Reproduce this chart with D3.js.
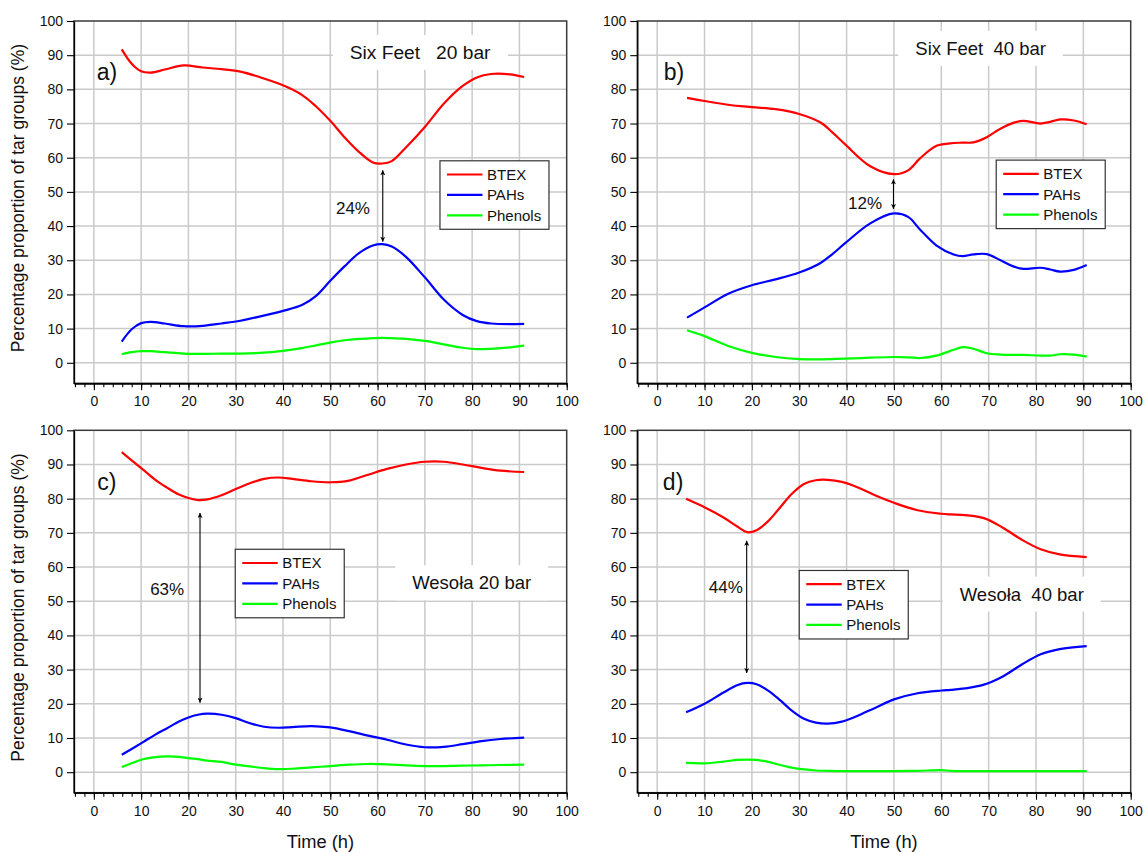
<!DOCTYPE html>
<html><head><meta charset="utf-8">
<script src="https://cdn.jsdelivr.net/npm/d3@7/dist/d3.min.js"></script>
<style>
body{margin:0;background:#fff;}
svg text{font-family:"Liberation Sans",Arial,Helvetica,sans-serif;}
</style></head><body>
<svg id="chart" width="1144" height="852"></svg>
<script>
// ---------- data ----------
const xMajorTicks = [0,10,20,30,40,50,60,70,80,90,100];
const yMajorTicks = [0,10,20,30,40,50,60,70,80,90,100];
const xMinorTicks = d3.range(-4, 101, 2);
const seriesNames = ["BTEX","PAHs","Phenols"];
const panelLetters = ["a)","b)","c)","d)"];
const panelTitles = ["Six Feet   20 bar","Six Feet  40 bar","Wesoła 20 bar","Wesoła  40 bar"];
const gapLabels = ["24%","12%","63%","44%"];

// a) Six Feet 20 bar
const timeA   = [5.9,8,10,12,15,19,23,27,31,35,40,44,47,50,53,56,59,61,63,66,70,74,78,81,84,88,91];
const btexA   = [91.7,87.5,85.3,84.9,85.8,87.0,86.4,85.9,85.2,83.6,81.2,78.4,75.0,70.8,66.0,61.8,58.6,58.3,59.0,63.0,69.0,75.8,81.0,83.5,84.5,84.4,83.6];
const pahA    = [6.2,9.8,11.6,12.0,11.5,10.7,10.8,11.5,12.3,13.5,15.2,16.9,19.6,24.0,28.2,32.0,34.3,34.7,34.0,31.0,25.0,18.5,14.0,12.2,11.5,11.3,11.4];
const phenolA = [2.5,3.1,3.4,3.4,3.1,2.7,2.6,2.7,2.7,2.9,3.5,4.3,5.1,5.9,6.6,7.0,7.2,7.3,7.2,7.0,6.4,5.4,4.4,4.0,4.1,4.5,5.0];

// b) Six Feet 40 bar
const timeB   = [6.3,10,15,20,25,30,34.5,37,39.7,45,50,53,55.5,59,62.6,64.5,66.8,69.6,72.5,75.2,77.3,80.9,83,85.1,88,90.7];
const btexB   = [77.5,76.6,75.5,74.8,74.2,72.8,70.3,67.4,63.9,57.5,55.2,56.3,59.8,63.5,64.3,64.4,64.5,66.0,68.5,70.2,70.8,70.0,70.5,71.2,70.9,69.8];
const pahB    = [13.2,16.2,20.2,22.7,24.4,26.4,29.2,31.8,35.0,40.8,43.7,42.7,39.0,34.3,31.7,31.2,31.7,31.8,30.0,28.2,27.5,27.8,27.3,26.7,27.2,28.6];
const phenolB = [9.5,7.8,4.9,2.9,1.7,1.1,1.0,1.1,1.2,1.5,1.7,1.6,1.4,2.1,3.8,4.6,4.1,2.8,2.4,2.3,2.3,2.1,2.1,2.5,2.4,1.8];

// c) Wesoła 20 bar
const timeC   = [5.9,8,10.4,13,15.4,18,20,22,24,27,30,33,36,39,42,46,50,54,58,62,66,70,74,78,82,86,91];
const btexC   = [93.6,91.2,88.5,85.5,83.3,81.2,80.2,79.6,79.8,81.0,82.8,84.5,85.8,86.2,85.8,85.1,84.8,85.3,87.0,88.7,90.0,90.8,90.8,90.0,89.0,88.2,87.8];
const pahC    = [5.1,6.8,8.8,11.0,12.8,14.8,16.0,16.8,17.1,16.8,15.8,14.3,13.3,13.0,13.2,13.5,13.1,12.0,10.7,9.5,8.1,7.3,7.4,8.2,9.1,9.7,10.1];
const phenolC = [1.5,2.6,3.8,4.4,4.6,4.5,4.1,3.8,3.4,3.0,2.2,1.7,1.2,0.9,1.0,1.4,1.8,2.2,2.4,2.3,2.0,1.8,1.8,1.9,2.0,2.1,2.2];

// d) Wesoła 40 bar
const timeD   = [6.1,10,14,17,19,21,23.5,26,28.5,31,33.5,36,39,42,46,50,55,60,62,65,69,73,77,81,85,90.7];
const btexD   = [80.0,77.5,74.5,71.8,70.2,70.8,73.5,77.5,81.5,84.3,85.4,85.5,84.9,83.5,81.0,78.8,76.6,75.6,75.4,75.2,74.3,71.5,68.0,65.2,63.7,62.9];
const pahD    = [17.5,20.0,23.3,25.5,26.1,25.7,23.8,21.0,17.9,15.6,14.5,14.2,14.8,16.3,18.8,21.3,23.1,23.9,24.1,24.5,25.6,28.0,31.5,34.5,36.0,36.9];
const phenolD = [2.7,2.6,3.1,3.6,3.7,3.6,3.0,2.1,1.3,0.8,0.5,0.4,0.3,0.3,0.3,0.3,0.4,0.6,0.4,0.3,0.3,0.3,0.3,0.3,0.3,0.3];

// ---------- layout (positions in data units of each panel) ----------
const colors = ["#ff0000","#0000ff","#00ff00"];
const cols = [{left:74, right:566.7},{left:637.3, right:1130.7}];
const rows = [{top:21, bottom:383.3},{top:430.3, bottom:792.7}];
const panels = [
  {col:0,row:0,time:timeA,values:[btexA,pahA,phenolA],title:[69.0,88.9],letter:[0.6,82.7],legend:[73.2,59.1],arrow:[61.1,56.3,35.4],gap:[54.8,45.3]},
  {col:1,row:0,time:timeB,values:[btexB,pahB,phenolB],title:[68.3,90.1],letter:[1.4,82.7],legend:[71.6,59.3],arrow:[49.9,53.7,45.0],gap:[43.9,46.7]},
  {col:0,row:1,time:timeC,values:[btexC,pahC,phenolC],title:[79.9,53.5],letter:[0.7,82.6],legend:[29.9,65.2],arrow:[22.45,75.8,20.3],gap:[15.5,53.6]},
  {col:1,row:1,time:timeD,values:[btexD,pahD,phenolD],title:[77.0,50.2],letter:[1.2,82.4],legend:[30.0,59.0],arrow:[18.9,67.7,29.0],gap:[14.5,54.3]}
];

const svg = d3.select("#chart");
const defs = svg.append("defs");
defs.append("marker").attr("id","ah").attr("viewBox","0 0 10 10")
  .attr("refX",10).attr("refY",5).attr("markerWidth",8).attr("markerHeight",5)
  .attr("markerUnits","userSpaceOnUse").attr("orient","auto-start-reverse")
  .append("path").attr("d","M0,0 L10,5 L0,10 L2.5,5 Z").attr("fill","#000");

panels.forEach((p,i)=>{
  const c = cols[p.col], r = rows[p.row];
  const x = d3.scaleLinear().domain([-4.2,100]).range([c.left,c.right]);
  const y = d3.scaleLinear().domain([-6,100]).range([r.bottom,r.top]);
  const g = svg.append("g");

  // grid
  g.append("g").selectAll("line").data(xMajorTicks.filter(v=>v<100)).join("line")
    .attr("x1",d=>x(d)).attr("x2",d=>x(d)).attr("y1",r.top).attr("y2",r.bottom)
    .attr("stroke","#cacaca").attr("stroke-width",1.5);
  g.append("g").selectAll("line").data(yMajorTicks.filter(v=>v<100)).join("line")
    .attr("y1",d=>y(d)).attr("y2",d=>y(d)).attr("x1",c.left).attr("x2",c.right)
    .attr("stroke","#cacaca").attr("stroke-width",1.5);

  // frame
  g.append("rect").attr("x",c.left).attr("y",r.top).attr("width",c.right-c.left).attr("height",r.bottom-r.top)
    .attr("fill","none").attr("stroke","#3a3a3a").attr("stroke-width",1.5);

  // axes
  const ax = g.append("g").attr("transform",`translate(0,${r.bottom})`)
    .call(d3.axisBottom(x).tickValues(xMajorTicks).tickSize(7).tickPadding(6).tickSizeOuter(0));
  const axm = g.append("g").attr("transform",`translate(0,${r.bottom})`)
    .call(d3.axisBottom(x).tickValues(xMinorTicks).tickSize(4).tickFormat("").tickSizeOuter(0));
  const ay = g.append("g").attr("transform",`translate(${c.left},0)`)
    .call(d3.axisLeft(y).tickValues(yMajorTicks).tickSize(7).tickPadding(4).tickSizeOuter(0));
  [ax,axm,ay].forEach(a=>{
    a.select(".domain").attr("stroke","#000").attr("stroke-width",1.3);
    a.selectAll(".tick line").attr("stroke","#000").attr("stroke-width",1.1);
    a.selectAll("text").attr("font-size",14).attr("fill","#111")
      .attr("font-family","'Liberation Sans',Arial,sans-serif");
  });

  // series
  const line = d3.line().curve(d3.curveCatmullRom.alpha(0.5));
  p.values.forEach((vals,k)=>{
    g.append("path").attr("d",line(p.time.map((t,j)=>[x(t),y(vals[j])])))
      .attr("fill","none").attr("stroke",colors[k]).attr("stroke-width",2.2)
      .attr("stroke-linejoin","round").attr("stroke-linecap","butt");
  });

  // title with white box
  const tg = g.append("g");
  const tt = tg.append("text").attr("x",x(p.title[0])).attr("y",y(p.title[1]))
    .attr("text-anchor","middle").attr("font-size",i===0?19.2:18.5).attr("fill","#111")
    .style("white-space","pre").text(panelTitles[i]);
  const bb = tt.node().getBBox();
  tg.insert("rect","text").attr("x",bb.x-17).attr("y",bb.y-7).attr("width",bb.width+34).attr("height",bb.height+14)
    .attr("fill","#fff");

  // panel letter
  g.append("text").attr("x",x(p.letter[0])).attr("y",y(p.letter[1]))
    .attr("font-size",23).attr("fill","#111").text(panelLetters[i]);

  // legend
  const lx = x(p.legend[0]), ly = y(p.legend[1]);
  const lg = g.append("g").attr("transform",`translate(${lx},${ly})`);
  lg.append("rect").attr("width",109).attr("height",68.5).attr("fill","#fff")
    .attr("stroke","#333").attr("stroke-width",1.2);
  seriesNames.forEach((n,k)=>{
    const yy = 13.7 + k*20.4;
    lg.append("line").attr("x1",7).attr("x2",42.5).attr("y1",yy).attr("y2",yy)
      .attr("stroke",colors[k]).attr("stroke-width",2.2);
    lg.append("text").attr("x",47).attr("y",yy+5.4).attr("font-size",15).attr("fill","#111").text(n);
  });

  // gap arrow
  g.append("line").attr("x1",x(p.arrow[0])).attr("x2",x(p.arrow[0]))
    .attr("y1",y(p.arrow[1])).attr("y2",y(p.arrow[2]))
    .attr("stroke","#000").attr("stroke-width",1.1)
    .attr("marker-start","url(#ah)").attr("marker-end","url(#ah)");
  g.append("text").attr("x",x(p.gap[0])).attr("y",y(p.gap[1])+6)
    .attr("text-anchor","middle").attr("font-size",17).attr("fill","#111").text(gapLabels[i]);
});

// axis titles
rows.forEach(r=>{
  const cy = (r.top + r.bottom)/2 - 4;
  svg.append("text").attr("transform",`translate(24,${cy}) rotate(-90)`)
    .attr("text-anchor","middle").attr("font-size",17.5).attr("fill","#111")
    .text("Percentage proportion of tar groups (%)");
});
cols.forEach(c=>{
  svg.append("text").attr("x",(c.left+c.right)/2).attr("y",848)
    .attr("text-anchor","middle").attr("font-size",18.3).attr("fill","#111").text("Time (h)");
});
</script>
</body></html>
